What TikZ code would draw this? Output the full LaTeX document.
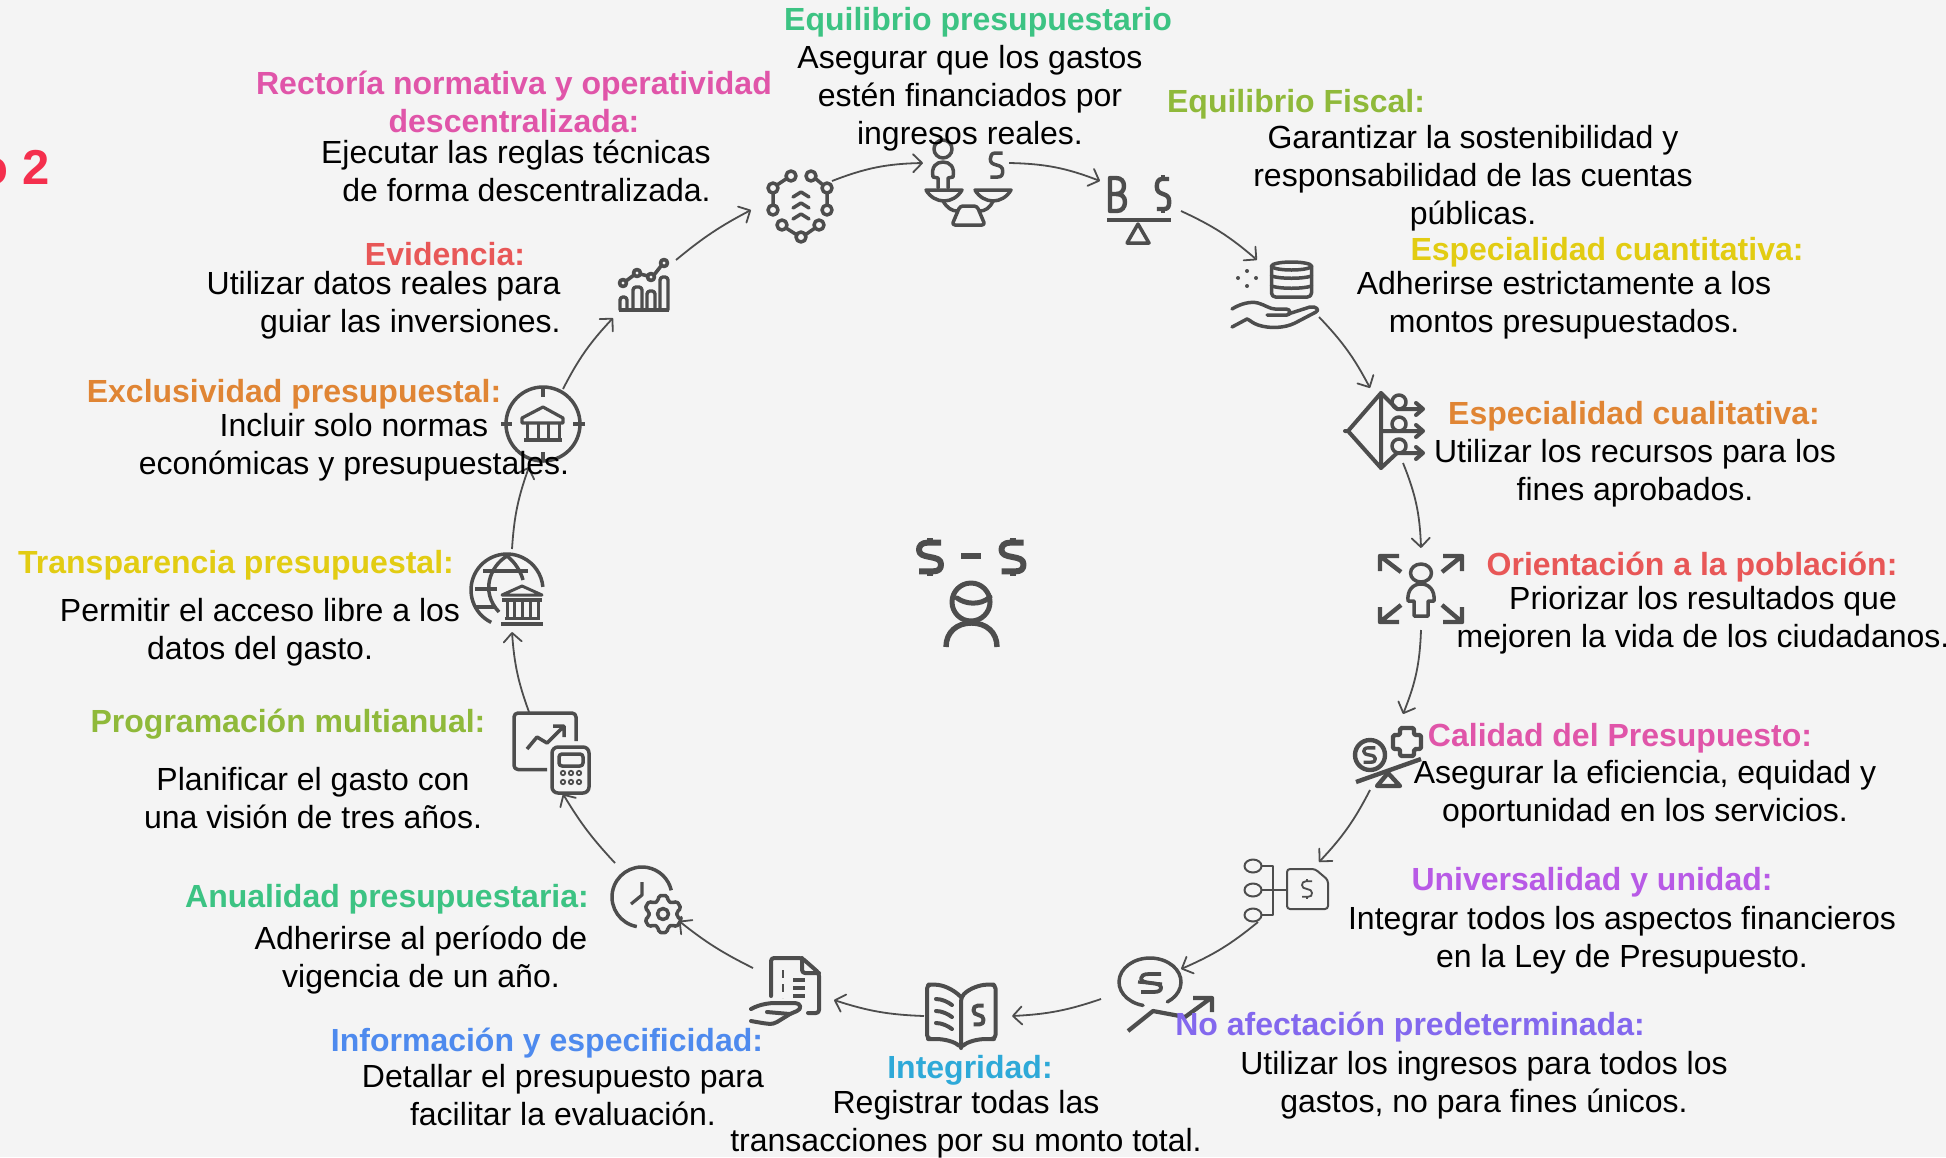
\documentclass[tikz,border=0pt]{standalone}
\usepackage{fontspec}
\setmainfont{Liberation Sans}
\usetikzlibrary{arrows.meta}
\definecolor{bgc}{HTML}{F4F4F4}
\definecolor{icg}{HTML}{4D4D4D}
\definecolor{cGreen}{HTML}{3CC383}
\definecolor{cLime}{HTML}{8FB93A}
\definecolor{cYellow}{HTML}{E2CC12}
\definecolor{cOrange}{HTML}{E08534}
\definecolor{cRed}{HTML}{E85757}
\definecolor{cPink}{HTML}{E055A9}
\definecolor{cPurple}{HTML}{B85AE6}
\definecolor{cViolet}{HTML}{8368EE}
\definecolor{cCyan}{HTML}{2EA9D8}
\definecolor{cBlue}{HTML}{4E8AEE}
\definecolor{cCrimson}{HTML}{F42F4D}
\tikzset{
  ic/.style={draw=icg,line width=1.75pt,line join=round,line cap=round,fill=none},
  conn/.style={draw=icg,line width=0.9pt,-{Straight Barb[length=4.5pt,width=9pt,line width=0.9pt,round]}},
  ttl/.style={font=\fontsize{16}{19}\selectfont\bfseries,inner sep=0pt,align=center},
  bod/.style={font=\fontsize{16}{19}\selectfont,inner sep=0pt,text=black,align=center},
}
\newcommand{\glyphS}[5]{\begin{scope}[shift={(#1,#2)},xscale=#3,yscale=#4]
  \draw[ic,line width=#5,line cap=butt] (10,-12) -- (-2,-12) .. controls (-8,-12) and (-10,-9) .. (-10,-6) .. controls (-10,-2) and (-6,-1) .. (0,0) .. controls (6,1) and (10,2) .. (10,6) .. controls (10,10) and (8,12) .. (2,12) -- (-10,12);
\end{scope}}
\newcommand{\glyphT}[5]{\glyphS{#1}{#2}{#3}{#4}{#5}\begin{scope}[shift={(#1,#2)},xscale=#3,yscale=#4]
  \draw[ic,line width=#5,line cap=butt] (0,-12) -- (0,-15.5) (0,12) -- (0,15.5);
\end{scope}}
\begin{document}
\begin{tikzpicture}[x=0.5pt,y=-0.5pt]
\useasboundingbox (0,0) rectangle (1946,1157);
\fill[bgc] (0,0) rectangle (1946,1157);
\begin{scope}
\clip (0,0) rectangle (1946,1157);
\node[anchor=east,inner sep=0pt,text=cCrimson,font=\fontsize{24.5}{28}\selectfont\bfseries] (step2) at (50,168) {o 2};
\end{scope}

% connector end points
\coordinate (aOut) at (832,181);  \coordinate (aIn) at (923,163);
\coordinate (bOut) at (1009,163); \coordinate (bIn) at (1100,181);
\coordinate (cOut) at (1181,211); \coordinate (cIn) at (1257,260);
\coordinate (dOut) at (1319,317); \coordinate (dIn) at (1370,388);
\coordinate (eOut) at (1403,463); \coordinate (eIn) at (1421,548);
\coordinate (fOut) at (1421,630); \coordinate (fIn) at (1403,714);
\coordinate (gOut) at (1370,790); \coordinate (gIn) at (1319,862);
\coordinate (hOut) at (1258,922); \coordinate (hIn) at (1181,969);
\coordinate (iOut) at (1101,999); \coordinate (iIn) at (1012,1016);
\coordinate (jOut) at (924,1016); \coordinate (jIn) at (834,1000);
\coordinate (kOut) at (753,968);  \coordinate (kIn) at (679,921);
\coordinate (lOut) at (615,863);  \coordinate (lIn) at (563,794);
\coordinate (mOut) at (529,712);  \coordinate (mIn) at (512,632);
\coordinate (nOut) at (512,549);  \coordinate (nIn) at (529,467);
\coordinate (oOut) at (563,389);  \coordinate (oIn) at (613,318);
\coordinate (pOut) at (676,260);  \coordinate (pIn) at (751,210);

\draw[conn] (aOut) to[bend left=10] (aIn);
\draw[conn] (bOut) to[bend left=10] (bIn);
\draw[conn] (cOut) to[bend left=8] (cIn);
\draw[conn] (dOut) to[bend left=8] (dIn);
\draw[conn] (eOut) to[bend left=10] (eIn);
\draw[conn] (fOut) to[bend left=10] (fIn);
\draw[conn] (gOut) to[bend left=8] (gIn);
\draw[conn] (hOut) to[bend left=8] (hIn);
\draw[conn] (iOut) to[bend left=8] (iIn);
\draw[conn] (jOut) to[bend left=8] (jIn);
\draw[conn] (kOut) to[bend left=6] (kIn);
\draw[conn] (lOut) to[bend left=6] (lIn);
\draw[conn] (mOut) to[bend left=8] (mIn);
\draw[conn] (nOut) to[bend left=8] (nIn);
\draw[conn] (oOut) to[bend left=8] (oIn);
\draw[conn] (pOut) to[bend left=6] (pIn);

% centre
\glyphT{930}{557}{1.1}{1.2}{3pt}
\glyphT{1012.5}{557}{1.1}{1.2}{3pt}
\draw[ic,line width=3pt,line cap=butt] (961,556) -- (981,556);
\draw[ic,line width=2.5pt] (971,602) circle[radius=19];
\draw[ic,line width=2.5pt] (957,598) .. controls (965,604) and (980,606) .. (990,597);
\draw[ic,line width=2.7pt,line cap=butt] (946,647) .. controls (946,632) and (957,623) .. (971.5,623) .. controls (986,623) and (997,632) .. (997,647);

% network
\foreach \p in {(791,176),(811,176),(773,188),(827,188),(773,210),(827,210),(782,225),(819,225),(801,237)}
  \draw[ic] \p circle[radius=5];
\draw[ic] (786,179) -- (777,185) (816,179) -- (823,185) (773,193) -- (773,205) (827,193) -- (827,205) (786,228) -- (797,235) (815,228) -- (805,235);
\draw[ic] (793,197) -- (801,192) -- (809,197) (793,208) -- (801,203) -- (809,208) (793,219) -- (801,214) -- (809,219);

% scales with person
\draw[ic] (943,149) circle[radius=9];
\draw[ic] (938,188) -- (938,178) -- (933,177) .. controls (931,167) and (936,162) .. (943,162) .. controls (950,162) and (955,167) .. (953,177) -- (948,178) -- (948,188);
\draw[ic] (926,190) -- (962,190) .. controls (958,197) and (951,201) .. (944,201) .. controls (937,201) and (930,197) .. (926,190) -- cycle;
\draw[ic] (975,190) -- (1011,190) .. controls (1007,197) and (1000,201) .. (993,201) .. controls (986,201) and (979,197) .. (975,190) -- cycle;
\draw[ic] (943,201) .. controls (947,208) and (952,211) .. (957,211) (993,201) .. controls (990,208) and (985,211) .. (980,211);
\draw[ic,rounded corners=1.5pt] (952,225) -- (960,206) -- (977,206) -- (985,225) -- cycle;
\glyphS{996.5}{165}{.62}{1}{1.75pt}

% B $
\draw[ic,line width=2.2pt] (1110,178) -- (1110,211) -- (1117,211) .. controls (1122,211) and (1125,207) .. (1125,202) .. controls (1125,197) and (1122,194) .. (1116,194) -- (1110,194) (1116,194) .. controls (1121,194) and (1124,191) .. (1124,186) .. controls (1124,181) and (1121,178) .. (1116,178) -- (1110,178);
\glyphT{1163}{194}{.62}{1.25}{2.2pt}
\draw[ic,line width=2.2pt,line cap=butt] (1107,220) -- (1171,220);
\draw[ic] (1138,224) -- (1127,243) -- (1149,243) -- cycle;

% database in a hand
\draw[ic] (1291.5,266) ellipse[x radius=20,y radius=4];
\draw[ic,rounded corners=2pt] (1271.5,266) -- (1271.5,297) -- (1311.5,297) -- (1311.5,266);
\draw[ic] (1271.5,276) .. controls (1280,279) and (1303,279) .. (1311.5,276) (1271.5,286) .. controls (1280,289) and (1303,289) .. (1311.5,286);
\foreach \p in {(1247,271),(1238,278),(1256,278),(1247,286)}
  \fill[icg] \p circle[radius=2];
\draw[ic] (1232,309) .. controls (1240,304) and (1250,301) .. (1258,303) .. controls (1265,305) and (1270,309) .. (1275,309) -- (1286,309) .. controls (1291,309) and (1291,315) .. (1287,315) -- (1267,315);
\draw[ic] (1288,314) -- (1310,307) .. controls (1316,306) and (1320,310) .. (1316,312) -- (1295,323) .. controls (1285,328) and (1270,329) .. (1258,325) .. controls (1252,323) and (1250,320) .. (1247,319) -- (1232,327);

% qualitative
\draw[ic,line width=2pt] (1345,431) -- (1348,431) -- (1381,393) -- (1381,468) -- (1348,431);
\draw[ic,line width=2pt] (1381,393) -- (1397,409) -- (1422,409) (1381,431) -- (1422,431) (1381,468) -- (1397,453) -- (1422,453);
\draw[ic,line width=2pt] (1416,403) -- (1423,409) -- (1416,415) (1416,425) -- (1423,431) -- (1416,437) (1416,447) -- (1423,453) -- (1416,459);
\foreach \p in {(1399,402),(1399,424),(1399,446)}
  \draw[ic] \p circle[radius=7];

% people orientation
\draw[ic] (1421,573) ellipse[x radius=10.5,y radius=9];
\draw[ic] (1408,601) .. controls (1407,590) and (1413,584) .. (1421,584) .. controls (1429,584) and (1435,590) .. (1434,601) -- (1428,601) -- (1428,616) -- (1414,616) -- (1414,601) -- cycle;
\draw[ic,line width=2.2pt,line cap=butt] (1380,571) -- (1380,556) -- (1399,556) (1380,556) -- (1401,572);
\draw[ic,line width=2.2pt,line cap=butt] (1443,556) -- (1462,556) -- (1462,571) (1462,556) -- (1442,572);
\draw[ic,line width=2.2pt,line cap=butt] (1380,607) -- (1380,622) -- (1399,622) (1380,622) -- (1401,605);
\draw[ic,line width=2.2pt,line cap=butt] (1443,622) -- (1462,622) -- (1462,607) (1462,622) -- (1442,605);

% balance with plus
\draw[ic,line width=2.2pt] (1370,755) circle[radius=15];
\glyphS{1369.5}{755}{.58}{.6}{1.7pt}
\draw[ic,line width=2.2pt,rounded corners=.8pt] (1400,728) -- (1414,728) -- (1414,735) -- (1421,735) -- (1421,749) -- (1414,749) -- (1414,756) -- (1400,756) -- (1400,749) -- (1393,749) -- (1393,735) -- (1400,735) -- cycle;
\draw[ic,line width=2.2pt,line cap=butt] (1356,782) -- (1421,759);
\draw[ic,line width=2.2pt] (1388,773) -- (1377,786) -- (1400,786) -- cycle;

% universal
\foreach \p in {(1253,866),(1253,890),(1253,915)}
  \draw[ic,line width=1pt] \p ellipse[x radius=8.5,y radius=6.5];
\draw[ic,line width=1pt,line cap=butt] (1262,866) -- (1273,866) -- (1273,915) -- (1262,915) (1262,890) -- (1287,890);
\draw[ic,line width=1pt,rounded corners=1.5pt] (1287,869) -- (1315,869) -- (1328,880) -- (1328,909) -- (1287,909) -- cycle;
\glyphT{1307}{889}{.5}{.65}{.9pt}

% no afectacion
\draw[ic] (1150,982) ++(103:31 and 24) arc[start angle=103,end angle=416,x radius=31,y radius=24];
\glyphS{1151}{983}{1}{.75}{1.9pt}
\draw[ic,line width=1.6pt,line cap=butt] (1138,982) -- (1162,984);
\draw[ic,line width=2.1pt,line cap=butt] (1128,1031) -- (1153,1011) -- (1185,1017) -- (1211,998) (1193,998) -- (1212,998) -- (1212,1012);

% book
\draw[ic,line width=2pt,rounded corners=2pt] (961,997) .. controls (952,988) and (942,985) .. (932,984.5) -- (927,984.5) -- (927,1039) -- (932,1039) .. controls (945,1039) and (955,1042) .. (961,1048) .. controls (967,1042) and (977,1039) .. (990,1039) -- (995.5,1039) -- (995.5,984.5) -- (990,984.5) .. controls (980,985) and (970,988) .. (961,997) -- (961,1048);
\draw[ic,line width=2pt] (936,999) .. controls (942,999) and (948,1002) .. (952,1005) (936,1011) .. controls (942,1011) and (948,1014) .. (952,1017) (936,1023) .. controls (942,1023) and (948,1026) .. (952,1029);
\glyphS{978.5}{1015}{.5}{.78}{2pt}

% document in a hand
\draw[ic,line width=2pt,rounded corners=1.5pt] (771,996) -- (771,958) -- (802,958) -- (819,973) -- (819,1013) -- (808,1013);
\draw[ic,line width=2pt,rounded corners=1.5pt] (802,958) -- (802,973) -- (819,973);
\draw[ic,line width=1pt,line cap=butt,dash pattern=on 4pt off 3pt] (783,970) -- (783,998);
\draw[ic,line width=2pt,line cap=butt] (793,980) -- (805,980) (793,988) -- (805,988) (793,996) -- (805,996);
\draw[ic,line width=2pt] (751,1009) .. controls (760,1004) and (770,1003) .. (775,1003) -- (795,1003) .. controls (801,1003) and (802,1009) .. (797,1011) -- (790,1014) -- (767,1012);
\draw[ic,line width=2pt] (790,1014) -- (777,1022) .. controls (772,1025) and (768,1024) .. (751,1021);

% clock and gear
\draw[ic,line cap=butt] (642,897) ++(100:30) arc[start angle=100,end angle=347,radius=30];
\draw[ic,line width=1.6pt,line cap=butt] (642,882) -- (642,895) -- (631,904);
\begin{scope}[shift={(663,914)}]
\draw[ic,rounded corners=1pt] (17:19) \foreach \a in {30,90,...,330}{ -- (\a-13:19) -- (\a+13:19) -- (\a+20:14) -- (\a+40:14)} -- cycle;
\draw[ic] (0,0) circle[radius=5.5];
\end{scope}

% board and calculator
\draw[ic,line cap=butt,rounded corners=2pt] (576,741) -- (576,713) -- (514,713) -- (514,769.5) -- (547,769.5);
\draw[ic,line cap=butt] (527,749) -- (537,737) -- (547,743) -- (563,727) (553,726) -- (564,726) -- (564,737);
\draw[ic,rounded corners=3pt] (552,747) rectangle (589,793);
\draw[ic,rounded corners=1.5pt] (559,754) rectangle (583,766);
\foreach \p in {(563,773),(571,773),(579,773),(563,782),(571,782),(579,782)}
  \draw[ic,line width=.9pt] \p circle[radius=2.2];

% globe and bank
\draw[ic,line cap=butt] (507,590) ++(116:36) arc[start angle=116,end angle=355,radius=36];
\draw[ic,line cap=butt] (475,589) -- (497,589) (483,571) -- (528,571) (475,607) -- (495,607);
\draw[ic,line cap=butt] (507,556) .. controls (490,566) and (480,592) .. (499,612) (507,556) .. controls (515,562) and (521,572) .. (523,580);
\draw[ic,line width=1.5pt] (522,586) -- (502,595) -- (542,595) -- cycle;
\draw[ic,line width=2pt,line cap=butt] (502,600) -- (542,600) (501,624) -- (543,624);
\draw[ic,line width=1.5pt,line cap=butt] (507,600) -- (507,620) (514.5,600) -- (514.5,620) (522,600) -- (522,620) (530,600) -- (530,620) (538,600) -- (538,620) (505,618.5) -- (540,618.5);

% target bank
\draw[ic] (543,424) circle[radius=37];
\draw[ic,line cap=butt] (543,387) -- (543,397) (543,452) -- (543,461) (501,424) -- (512,424) (573,424) -- (585,424);
\draw[ic,line width=1.6pt] (522,418) -- (543,407) -- (563,418) -- (563,423) -- (522,423) -- cycle;
\draw[ic,line width=1.5pt,line cap=butt] (527,423) -- (527,440) (538,423) -- (538,440) (548,423) -- (548,440) (559,423) -- (559,440);
\draw[ic,line width=2pt,line cap=butt] (524,440) -- (562,440);

% chart
\draw[ic,line width=1.8pt] (623,283) circle[radius=3.5] (637,273) circle[radius=3.5] (651,277) circle[radius=3.5] (664,263) circle[radius=3.5];
\draw[ic,line width=1.8pt,line cap=butt] (626,281) -- (634,275) (640,274) -- (648,276) (654,275) -- (661,266);
\draw[ic,line width=1.7pt,rounded corners=1.5pt] (620,310) -- (620,297) -- (627,297) -- (627,310) (633,310) -- (633,287) -- (642,287) -- (642,310) (647,310) -- (647,291) -- (655,291) -- (655,310) (660,310) -- (660,277) -- (668,277) -- (668,310);
\draw[ic,line width=1.8pt,line cap=butt] (619,310) -- (669,310);

% texts
\node[ttl,text=cGreen] (t01) at (978,22.5) {Equilibrio presupuestario};
\node[bod] (b01) at (970,98.5) {Asegurar que los gastos\\estén financiados por\\ingresos reales.};
\node[ttl,text=cLime] (t02) at (1296,104.5) {Equilibrio Fiscal:};
\node[bod] (b02) at (1473,178.5) {Garantizar la sostenibilidad y\\responsabilidad de las cuentas\\públicas.};
\node[ttl,text=cYellow] (t03) at (1607,252) {Especialidad cuantitativa:};
\node[bod] (b03) at (1564,305.5) {Adherirse estrictamente a los\\montos presupuestados.};
\node[ttl,text=cOrange] (t04) at (1634,416) {Especialidad cualitativa:};
\node[bod] (b04) at (1635,473.5) {Utilizar los recursos para los\\fines aprobados.};
\node[ttl,text=cRed] (t05) at (1692,567.5) {Orientación a la población:};
\node[bod] (b05) at (1703,620) {Priorizar los resultados que\\mejoren la vida de los ciudadanos.};
\node[ttl,text=cPink] (t06) at (1620,738.5) {Calidad del Presupuesto:};
\node[bod] (b06) at (1645,794.5) {Asegurar la eficiencia, equidad y\\oportunidad en los servicios.};
\node[ttl,text=cPurple] (t07) at (1592,882.5) {Universalidad y unidad:};
\node[bod] (b07) at (1622,940.5) {Integrar todos los aspectos financieros\\en la Ley de Presupuesto.};
\node[ttl,text=cViolet] (t08) at (1410,1027.5) {No afectación predeterminada:};
\node[bod] (b08) at (1484,1085.5) {Utilizar los ingresos para todos los\\gastos, no para fines únicos.};
\node[ttl,text=cCyan] (t09) at (970,1070) {Integridad:};
\node[bod] (b09) at (966,1124.5) {Registrar todas las\\transacciones por su monto total.};
\node[ttl,text=cBlue] (t10) at (547,1043.5) {Información y especificidad:};
\node[bod] (b10) at (563,1095) {Detallar el presupuesto para\\facilitar la evaluación.};
\node[ttl,text=cGreen] (t11) at (387,899.5) {Anualidad presupuestaria:};
\node[bod] (b11) at (421,960.5) {Adherirse al período de\\vigencia de un año.};
\node[ttl,text=cLime] (t12) at (288,724.5) {Programación multianual:};
\node[bod] (b12) at (313,798) {Planificar el gasto con\\una visión de tres años.};
\node[ttl,text=cYellow] (t13) at (236,565.5) {Transparencia presupuestal:};
\node[bod] (b13) at (260,632.5) {Permitir el acceso libre a los\\datos del gasto.};
\node[ttl,text=cOrange] (t14) at (294,394.5) {Exclusividad presupuestal:};
\node[bod] (b14) at (354,447.5) {Incluir solo normas\\económicas y presupuestales.};
\node[ttl,text=cRed] (t15) at (445,254) {Evidencia:};
\node[bod,anchor=east,align=right] (b15) at (561,305.5) {Utilizar datos reales para\\guiar las inversiones.};
\node[ttl,text=cPink] (t16) at (514,102) {Rectoría normativa y operatividad\\descentralizada:};
\node[bod,anchor=east,align=right] (b16) at (711,171) {Ejecutar las reglas técnicas\\de forma descentralizada.};
\end{tikzpicture}
\end{document}
